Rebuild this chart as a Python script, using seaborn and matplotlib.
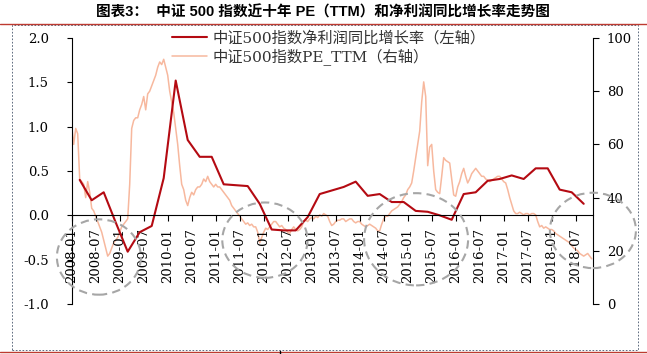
import matplotlib
matplotlib.use("Agg")
import matplotlib.pyplot as plt
from matplotlib.lines import Line2D
from matplotlib.patches import Ellipse, Rectangle
from matplotlib.ticker import FormatStrFormatter
import numpy as np
import pandas as pd
import seaborn as sns

# months counted from 2008-01
PROFIT_MONTHS = list(range(2, 129, 3))
PROFIT_GROWTH = [
    0.40, 0.17, 0.26, -0.08, -0.41, -0.19, -0.12, 0.42, 1.52, 0.85, 0.66,
    0.66, 0.35, 0.34, 0.33, 0.13, -0.16, -0.17, -0.17, -0.02, 0.24, 0.28,
    0.32, 0.38, 0.22, 0.24, 0.15, 0.15, 0.05, 0.04, 0.00, -0.05, 0.24,
    0.26, 0.39, 0.41, 0.45, 0.41, 0.53, 0.53, 0.29, 0.26, 0.13,
]

PE_MONTHS = np.arange(0, 130.5, 0.5)
PE_TTM = [
    67, 60, 66, 64, 47, 46, 45, 40, 46, 42, 36, 35,
    33, 31, 29, 27, 24, 21, 18, 19, 21, 23, 24, 25,
    27, 29, 30, 31, 32, 45, 66, 69, 70, 70, 73, 75,
    78, 73, 79, 80, 82, 84, 86, 89, 91, 90, 92, 89,
    86, 80, 76, 72, 66, 60, 52, 45, 43, 39, 37, 40,
    42, 41, 43, 44, 44, 45, 47, 46, 48, 46, 45, 44,
    45, 44, 44, 43, 42, 41, 40, 39, 37, 36, 35, 34,
    33, 32, 31, 30, 30.5, 29.5, 30, 29, 29, 27, 23, 25,
    27, 28.5, 28, 29, 30, 31, 31, 30, 29, 29.5, 28.5, 28,
    27, 26.5, 28, 29, 28, 27.5, 28, 29, 31, 31.5, 31, 32,
    32.5, 32, 33, 32.5, 33.5, 33, 34, 33.5, 33, 31, 29.5, 30,
    31, 31.5, 31.5, 32, 32, 31, 31.5, 32, 32, 31, 30.5, 31,
    31, 30, 29.5, 29, 29.5, 30, 29.5, 29, 28.5, 27.5, 27.5, 30,
    32, 33, 33, 34, 35, 35.5, 36, 36.5, 37.5, 38.5, 40, 41,
    43, 44, 45.5, 50, 55, 60, 65, 76, 83.5, 78, 52, 59,
    60, 50, 43, 42, 41.5, 48, 55, 54, 53.5, 53, 47, 41,
    40.5, 44, 46, 49, 51, 48, 45.5, 47, 49, 50, 51, 50,
    49, 48, 48, 47, 46.5, 46, 46.5, 47, 47.5, 48, 48, 47,
    46, 45.5, 43, 40, 37.5, 35, 34, 34, 34.5, 34, 33.5, 34,
    34, 33.5, 34, 34, 33.5, 31, 29, 29.5, 28.5, 29, 28.5, 28,
    28, 27.5, 26.5, 26, 25.5, 25, 24.5, 24, 23.5, 23, 22, 21,
    20.5, 20, 19, 18.5, 18, 18.5, 19, 18, 17,
]

TICK_MONTHS = list(range(0, 127, 6))
TICK_LABELS = [
    "2008-01", "2008-07", "2009-01", "2009-07", "2010-01", "2010-07",
    "2011-01", "2011-07", "2012-01", "2012-07", "2013-01", "2013-07",
    "2014-01", "2014-07", "2015-01", "2015-07", "2016-01", "2016-07",
    "2017-01", "2017-07", "2018-01", "2018-07",
]

PROFIT_LABEL = "中证500指数净利润同比增长率（左轴）"
PE_LABEL = "中证500指数PE_TTM（右轴）"
TITLE = "图表3：  中证 500 指数近十年 PE（TTM）和净利润同比增长率走势图"

# dashed grey circles (centre month, centre left-axis value, width, height)
CIRCLES = [
    (6.8, -0.47, 21.0, 0.85),
    (48.3, -0.28, 21.3, 0.85),
    (86.1, -0.27, 26.0, 1.04),
    (130.3, -0.17, 21.5, 0.85),
]

RED = "#B40A12"
SALMON = "#F7B89E"
FRAME_RED = "#BE3A30"

W, H = 647, 354


def main() -> None:
    sns.set_theme(style="white")
    plt.rcParams["font.family"] = ["DejaVu Serif", "Noto Sans CJK SC"]

    profit = pd.DataFrame({"month": PROFIT_MONTHS, "growth": PROFIT_GROWTH})
    pe = pd.DataFrame({"month": PE_MONTHS, "pe": PE_TTM})

    fig = plt.figure(figsize=(W / 100, H / 100), dpi=100)
    ax = fig.add_axes([71.7 / W, 1 - 304 / H, (593.3 - 71.7) / W, (304 - 38) / H])
    ax2 = ax.twinx()

    sns.lineplot(data=pe, x="month", y="pe", ax=ax2, color=SALMON, linewidth=1.1, estimator=None)
    sns.lineplot(data=profit, x="month", y="growth", ax=ax, color=RED, linewidth=1.5, estimator=None)

    ax.set_zorder(ax2.get_zorder() + 1)
    ax.patch.set_visible(False)

    ax.set_xlim(0, 130.4)
    ax.set_ylim(-1.0, 2.0)
    ax2.set_ylim(0, 100)
    ax.set_xlabel("")
    ax.set_ylabel("")
    ax2.set_xlabel("")
    ax2.set_ylabel("")

    for side in ["top", "right"]:
        ax.spines[side].set_visible(False)
    ax.spines["bottom"].set_position(("data", 0))
    for side in ["top", "left", "bottom"]:
        ax2.spines[side].set_visible(False)
    for sp in [ax.spines["left"], ax.spines["bottom"], ax2.spines["right"]]:
        sp.set_color("black")
        sp.set_linewidth(0.8)

    ax.set_yticks(np.arange(-1.0, 2.01, 0.5))
    ax.yaxis.set_major_formatter(FormatStrFormatter("%.1f"))
    ax2.set_yticks(range(0, 101, 20))
    ax.set_xticks(TICK_MONTHS, TICK_LABELS, rotation=90)

    ax.tick_params(axis="y", direction="out", length=3.6, width=0.8, pad=13,
                   labelsize=9.5, colors="black", left=True)
    ax.tick_params(axis="x", direction="out", length=4.3, width=0.8, pad=5,
                   labelsize=9.5, colors="black", bottom=True)
    ax2.tick_params(axis="y", direction="out", length=4.3, width=0.8, pad=5.3,
                    labelsize=9.5, colors="black", right=True)
    ax.grid(False)
    ax2.grid(False)

    for cx, cy, cw, ch in CIRCLES:
        ax.add_patch(Ellipse((cx, cy), cw, ch, fill=False, edgecolor="#A6A6A6",
                             linewidth=1.5, linestyle=(0, (4, 2.5)), clip_on=False, zorder=5))

    handles = [ax.get_lines()[0], ax2.get_lines()[0]]
    leg = ax.legend(handles, [PROFIT_LABEL, PE_LABEL], loc="upper left",
                    bbox_to_anchor=(171.7 / W, 1 - 31 / H), bbox_transform=fig.transFigure,
                    frameon=False, borderpad=0, borderaxespad=0, handlelength=2.3,
                    handletextpad=0.35, labelspacing=0.15,
                    prop={"family": ["DejaVu Serif", "Noto Sans CJK SC"], "size": 11})
    for t in leg.get_texts():
        t.set_color("#333333")

    fig.text(322.5 / W, 1 - 12 / H, TITLE, ha="center", va="center", fontsize=10.5,
             fontweight="bold", family=["Liberation Sans", "Noto Sans CJK SC"], color="black")
    fig.add_artist(Line2D([0, 1], [1 - 23.5 / H, 1 - 23.5 / H], color=FRAME_RED, linewidth=1.0))
    fig.add_artist(Line2D([0, 1], [1 - 352 / H, 1 - 352 / H], color=FRAME_RED, linewidth=1.0))
    fig.add_artist(Line2D([280 / W, 280 / W], [0, 1 - 351 / H], color="black", linewidth=1.0))
    fig.add_artist(Rectangle((12.3 / W, 1 - 350 / H), (637.5 - 12.3) / W, (350 - 25.3) / H,
                             fill=False, edgecolor="#44546A", linewidth=0.6,
                             linestyle=(0, (2, 2)), transform=fig.transFigure))

    fig.savefig("out.png", dpi=100)
    plt.close(fig)


if __name__ == "__main__":
    main()
